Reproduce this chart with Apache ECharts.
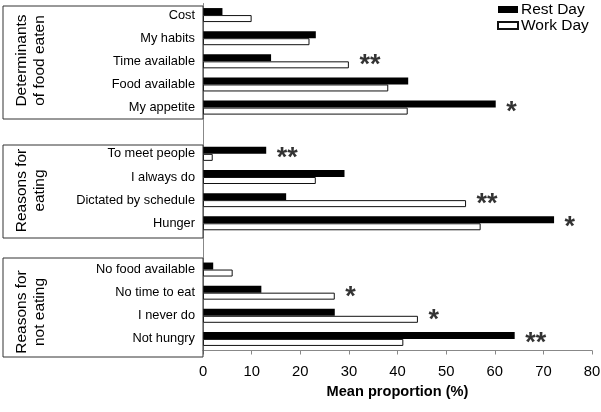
<!DOCTYPE html>
<html>
<head>
<meta charset="utf-8">
<script src="https://cdn.jsdelivr.net/npm/echarts@6/dist/echarts.min.js"></script>
<style>
html,body{margin:0;padding:0;background:#fff;}
#chart{width:601px;height:412px;}
</style>
</head>
<body>
<div id="chart"></div>
<script>
// ---- data (top to bottom; '' rows are gaps between the groups) ----
const categories = ['Cost','My habits','Time available','Food available','My appetite','',
  'To meet people','I always do','Dictated by schedule','Hunger','',
  'No food available','No time to eat','I never do','Not hungry'];
const restDay = [4, 23.2, 14, 42.2, 60.2, null, 13, 29.1, 17.1, 72.2, null, 2.1, 12, 27.1, 64.1];
const workDay = [10, 21.9, 30, 38.1, 42.1, null, 2, 23.2, 54.1, 57.1, null, 6.1, 27.1, 44.2, 41.2];
const significance = ['', '', '**', '', '*', '', '**', '', '**', '*', '', '', '*', '*', '**'];
const groupLabels = ['Determinants\nof food eaten', 'Reasons for\neating', 'Reasons for\nnot eating'];
const seriesNames = ['Rest Day', 'Work Day'];
const xMin = 0, xMax = 80, xStep = 10;
const axisTitle = 'Mean proportion (%)';

const FONT = '"Liberation Sans", Arial, sans-serif';

const starData = [];
categories.forEach((c, i) => {
  if (significance[i]) {
    starData.push({ value: [Math.max(restDay[i] || 0, workDay[i] || 0), i] });
  }
});

// group box geometry (decoration)
const boxes = [
  { y: 5, h: 113, ty: 60.5 },
  { y: 144, h: 93, ty: 190.5 },
  { y: 257, h: 99, ty: 312 }
];
const graphic = [];
boxes.forEach((b, k) => {
  graphic.push({
    type: 'rect', left: 2.5, top: b.y + 0.5, z: 10,
    shape: { width: 200, height: b.h },
    style: { fill: 'rgba(0,0,0,0)', stroke: '#333', lineWidth: 1 },
    silent: true
  });
  graphic.push({
    type: 'text', x: 31, y: b.ty, rotation: Math.PI / 2, z: 11,
    style: {
      text: groupLabels[k], font: '15.5px ' + FONT, fill: '#000',
      textAlign: 'center', textVerticalAlign: 'middle', lineHeight: 18
    },
    silent: true
  });
});

const chart = echarts.init(document.getElementById('chart'), null, { renderer: 'canvas' });
chart.setOption({
  animation: false,
  backgroundColor: '#fff',
  textStyle: { fontFamily: FONT },
  grid: { left: 203, right: 9, top: 3.5, bottom: 61.5, containLabel: false, outerBoundsMode: 'none' },
  legend: {
    data: seriesNames,
    orient: 'vertical',
    left: 497, top: 1.5,
    itemWidth: 20, itemHeight: 7, itemGap: 0,
    icon: 'rect',
    textStyle: { fontSize: 15.5, color: '#000', lineHeight: 14, padding: [0, 0, 0, -2] },
    padding: 0
  },
  xAxis: {
    type: 'value', min: xMin, max: xMax, interval: xStep,
    name: axisTitle, nameLocation: 'middle', nameGap: 32,
    nameTextStyle: { fontSize: 14.6, fontWeight: 'bold', color: '#000' },
    axisLine: { show: true, lineStyle: { color: '#888', width: 1 } },
    axisTick: { show: true, length: 4, lineStyle: { color: '#888' } },
    axisLabel: { fontSize: 14.8, color: '#000', margin: 14 },
    splitLine: { show: false }
  },
  yAxis: {
    type: 'category', data: categories, inverse: true,
    axisLine: { show: true, lineStyle: { color: '#888', width: 1 } },
    axisTick: { show: false },
    axisLabel: { fontSize: 12.8, color: '#000', margin: 8 }
  },
  series: [
    {
      name: seriesNames[0], type: 'bar', data: restDay,
      barWidth: 7, barGap: '0%',
      itemStyle: { color: '#000' }
    },
    {
      name: seriesNames[1], type: 'bar', data: workDay,
      barWidth: 7,
      itemStyle: { color: '#fff', borderColor: '#111', borderWidth: 1 }
    },
    {
      name: 'sig', type: 'scatter', data: starData,
      symbol: 'circle', symbolSize: 1,
      itemStyle: { color: 'rgba(0,0,0,0)' },
      label: {
        show: true, position: 'right', distance: 10, offset: [0, 4.5],
        formatter: p => significance[p.value[1]],
        fontSize: 27, fontWeight: 'bold', color: '#000', fontFamily: FONT
      },
      z: 5
    }
  ],
  graphic: graphic
});
</script>
</body>
</html>
